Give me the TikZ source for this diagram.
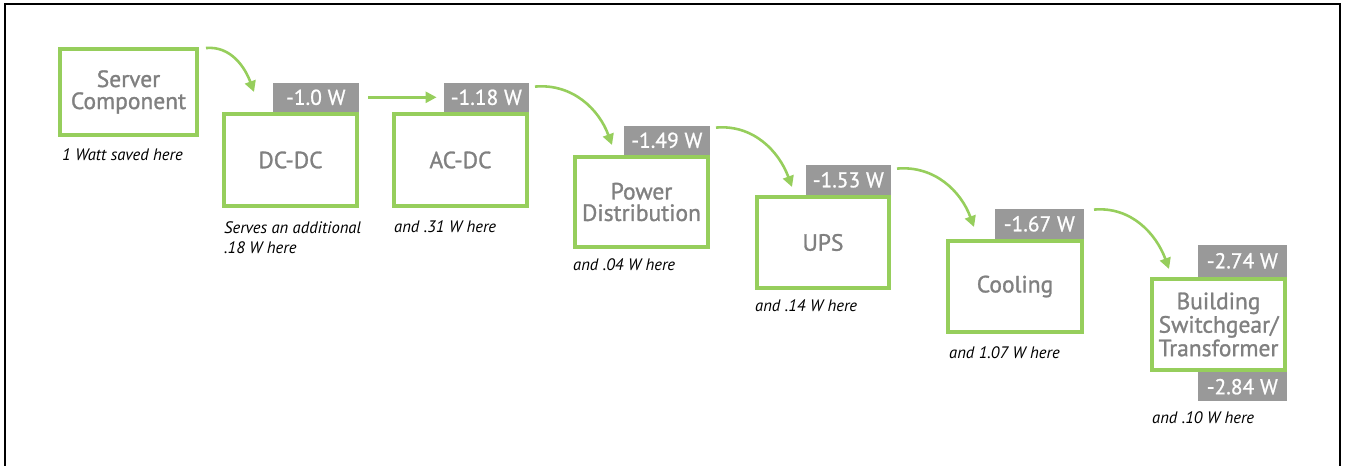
\documentclass[tikz,border=0pt]{standalone}
\usepackage{fontspec}
\setmainfont{PT Sans}
\newfontface\stagefont{PT Sans}[FakeBold=1.2]
\newfontface\tagfont{PT Sans}[FakeBold=0.9]
\usetikzlibrary{arrows.meta}
\definecolor{lgreen}{RGB}{150,206,92}
\definecolor{tagfill}{RGB}{153,153,153}
\definecolor{boxtext}{RGB}{128,128,128}
\begin{document}
\begin{tikzpicture}[x=1pt,y=1pt,
  stage/.style={draw=lgreen, line width=4pt, inner sep=0pt, text=boxtext, align=center, font=\stagefont\fontsize{23.5}{22}\selectfont},
  tag/.style={fill=tagfill, text=white, inner sep=0pt, minimum width=86pt, minimum height=29pt, font=\tagfont\fontsize{21.5}{20}\selectfont, anchor=south east},
  note/.style={anchor=base west, inner sep=0pt, font=\fontsize{16.6}{20}\selectfont\itshape, align=left},
  flow/.style={draw=lgreen, line width=2.6pt, -{Triangle[length=11pt,width=11pt]}},
]
\useasboundingbox (0,0) rectangle (1345,-466);
\draw[line width=2.5pt] (5,-466) -- (5,-4) -- (1340,-4) -- (1340,-466);

% stages
\node[stage, minimum width=137pt, minimum height=86pt] (srv) at (128.5,-92) {Server\\Component};
\node[stage, minimum width=133pt, minimum height=92pt] (dc) at (290.5,-160) {DC-DC};
\node[stage, minimum width=133pt, minimum height=92pt] (ac) at (460.5,-160) {AC-DC};
\node[stage, minimum width=133pt, minimum height=90pt, font=\stagefont\fontsize{23.5}{21.5}\selectfont] (pd) at (641.5,-202) {Power\\Distribution};
\node[stage, minimum width=132pt, minimum height=91pt] (ups) at (823,-242.5) {UPS};
\node[stage, minimum width=134pt, minimum height=91pt] (cool) at (1015,-286.5) {Cooling};
\node[stage, minimum width=133pt, minimum height=91pt, font=\stagefont\fontsize{23.5}{23.5}\selectfont] (bld) at (1218.5,-324.5) {Building\\Switchgear/\\Transformer};

% tags
\node[tag] (t1) at (dc.north east) {-1.0 W};
\node[tag, minimum width=85pt] (t2) at (ac.north east) {-1.18 W};
\node[tag] (t3) at (pd.north east) {-1.49 W};
\node[tag, minimum width=85pt, minimum height=30pt] (t4) at (ups.north east) {-1.53 W};
\node[tag, minimum width=89pt, minimum height=30pt] (t5) at (cool.north east) {-1.67 W};
\node[tag, minimum width=89pt, minimum height=32pt] (t6) at (bld.north east) {-2.74 W};
\node[tag, minimum width=89pt, anchor=north east] (t7) at (bld.south east) {-2.84 W};

% notes
\node[note] (n1) at (62,-160) {1 Watt saved here};
\node[note] (n2) at (224,-253) {Serves an additional\\.18 W here};
\node[note] (n3) at (394,-232) {and .31 W here};
\node[note] (n4) at (573,-270) {and .04 W here};
\node[note] (n5) at (755,-311) {and .14 W here};
\node[note] (n6) at (949,-358) {and 1.07 W here};
\node[note] (n7) at (1152,-423) {and .10 W here};

% flow arrows
\draw[flow] ([shift={(7,-1)}]srv.north east) to[out=5,in=110] ([shift={(32,20)}]dc.north west);
\draw[flow] ([xshift=9pt]t1.east) -- ([xshift=-7pt]t2.west);
\draw[flow] ([shift={(6,-4)}]t2.north east) to[out=5,in=110] ([shift={(39,10)}]pd.north west);
\draw[flow] ([shift={(6,-2)}]t3.north east) to[out=5,in=110] ([shift={(37,8)}]ups.north west);
\draw[flow] ([shift={(6,-4)}]t4.north east) to[out=5,in=110] ([shift={(28,12)}]cool.north west);
\draw[flow] ([shift={(10,-1)}]t5.north east) to[out=5,in=110] ([shift={(19,8)}]bld.north west);
\end{tikzpicture}
\end{document}
